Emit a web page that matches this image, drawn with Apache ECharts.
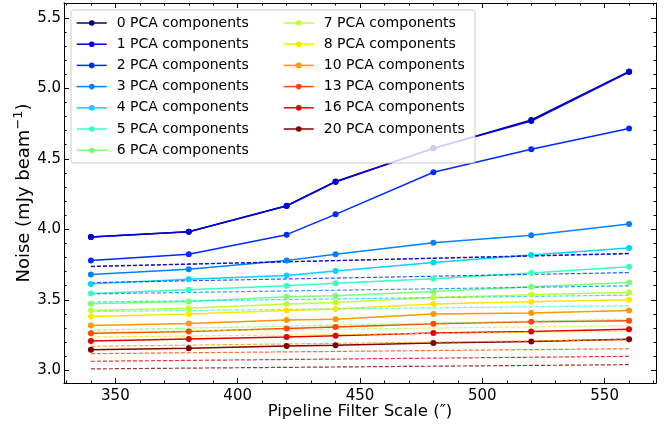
<!DOCTYPE html>
<html>
<head>
<meta charset="utf-8">
<script src="https://cdn.jsdelivr.net/npm/echarts@6/dist/echarts.min.js"></script>
<style>
  html, body { margin: 0; padding: 0; background: #fff; }
  #noise-chart { width: 666px; height: 424px; }
</style>
</head>
<body>
<div id="noise-chart"></div>
<script>
// filter scales (arcsec)
const filterScales = [340, 380, 420, 440, 480, 520, 560]

// measured noise per number of PCA components (mJy/beam)
const pca0 = [3.945, 3.983, 4.167, 4.339, 4.574, 4.775, 5.12]
const pca1 = [3.945, 3.983, 4.165, 4.336, 4.574, 4.768, 5.115]
const pca2 = [3.778, 3.823, 3.962, 4.106, 4.405, 4.568, 4.715]
const pca3 = [3.679, 3.717, 3.778, 3.823, 3.905, 3.958, 4.037]
const pca4 = [3.613, 3.646, 3.672, 3.705, 3.764, 3.818, 3.868]
const pca5 = [3.545, 3.571, 3.599, 3.618, 3.649, 3.691, 3.735]
const pca6 = [3.472, 3.488, 3.521, 3.528, 3.559, 3.592, 3.622]
const pca7 = [3.424, 3.441, 3.47, 3.481, 3.516, 3.535, 3.554]
const pca8 = [3.382, 3.399, 3.424, 3.434, 3.47, 3.486, 3.5]
const pca10 = [3.317, 3.332, 3.356, 3.363, 3.399, 3.406, 3.424]
const pca13 = [3.263, 3.276, 3.297, 3.307, 3.33, 3.344, 3.352]
const pca16 = [3.207, 3.222, 3.236, 3.245, 3.264, 3.276, 3.291]
const pca20 = [3.145, 3.156, 3.172, 3.177, 3.194, 3.205, 3.22]

// dashed reference lines: value at first and last filter scale
const fitEnds = [340, 560]
const fit0 = [3.735, 3.83]
const fit1 = [3.738, 3.826]
const fit2 = [3.622, 3.693]
const fit3 = [3.542, 3.599]
const fit4 = [3.484, 3.533]
const fit5 = [3.417, 3.458]
const fit6 = [3.285, 3.363]
const fit7 = [3.272, 3.316]
const fit8 = [3.236, 3.276]
const fit10 = [3.17, 3.217]
const fit13 = [3.118, 3.153]
const fit16 = [3.064, 3.099]
const fit20 = [3.01, 3.04]

const components = [0, 1, 2, 3, 4, 5, 6, 7, 8, 10, 13, 16, 20]
const measured = [pca0, pca1, pca2, pca3, pca4, pca5, pca6, pca7, pca8, pca10, pca13, pca16, pca20]
const fits = [fit0, fit1, fit2, fit3, fit4, fit5, fit6, fit7, fit8, fit10, fit13, fit16, fit20]

// tick labels
const xTicks = [350, 400, 450, 500, 550]
const yTicks = [3.0, 3.5, 4.0, 4.5, 5.0, 5.5]

// jet colormap samples
const colors = ['#000080', '#0000e0', '#002aff', '#0080ff', '#00d4ff', '#37ffc0', '#7bff7b',
  '#c0ff37', '#ffe600', '#ff9700', '#ff4800', '#e00000', '#800000']

const xMin = 329
const xMax = 571
const yMin = 2.91
const yMax = 5.605

let xMinor = []
for (let v = 330; v <= 570; v += 10) xMinor.push(v)
let yMinor = []
for (let k = 30; k <= 56; k++) yMinor.push(k / 10)

const font = 'DejaVu Sans'
const names = components.map(c => c + ' PCA components')

let series = []
components.forEach((c, i) => {
  series.push({
    name: names[i],
    type: 'line',
    symbol: 'circle',
    symbolSize: 6,
    color: colors[i],
    lineStyle: { width: 1.5 },
    animation: false,
    data: filterScales.map((x, j) => [x, measured[i][j]])
  })
})
components.forEach((c, i) => {
  series.push({
    name: names[i] + ' fit',
    type: 'line',
    symbol: 'none',
    color: colors[i],
    lineStyle: { width: 1.2, type: [4, 2], opacity: 0.8 },
    animation: false,
    data: fitEnds.map((x, j) => [x, fits[i][j]])
  })
})

function xAxisOf (position, ticks, len, withLabels) {
  return {
    type: 'value',
    position: position,
    min: xMin,
    max: xMax,
    splitLine: { show: false },
    axisLine: { show: withLabels, onZero: false, lineStyle: { color: '#000', width: 1 } },
    axisTick: { inside: true, length: len, customValues: ticks, lineStyle: { color: '#000' } },
    axisLabel: withLabels && position === 'bottom'
      ? { customValues: xTicks, fontFamily: font, fontSize: 15, color: '#000', margin: 6 }
      : { show: false }
  }
}

function yAxisOf (position, ticks, len, withLabels) {
  return {
    type: 'value',
    position: position,
    min: yMin,
    max: yMax,
    splitLine: { show: false },
    axisLine: { show: withLabels, onZero: false, lineStyle: { color: '#000', width: 1 } },
    axisTick: { inside: true, length: len, customValues: ticks, lineStyle: { color: '#000' } },
    axisLabel: withLabels && position === 'left'
      ? { customValues: yTicks, fontFamily: font, fontSize: 15, color: '#000', margin: 3,
          formatter: v => v.toFixed(1) }
      : { show: false }
  }
}

let xAxes = [
  xAxisOf('bottom', xTicks, 5, true),
  xAxisOf('bottom', xMinor, 2.5, false),
  xAxisOf('top', xTicks, 5, true),
  xAxisOf('top', xMinor, 2.5, false)
]
xAxes[0].name = 'Pipeline Filter Scale (\u2033)'
xAxes[0].nameLocation = 'middle'
xAxes[0].nameGap = 20
xAxes[0].nameMoveOverlap = false
xAxes[0].nameTextStyle = { fontFamily: font, fontSize: 16.5, color: '#000' }

let yAxes = [
  yAxisOf('left', yTicks, 5, true),
  yAxisOf('left', yMinor, 2.5, false),
  yAxisOf('right', yTicks, 5, true),
  yAxisOf('right', yMinor, 2.5, false)
]
yAxes[0].name = 'Noise (mJy beam{sup|\u22121})'
yAxes[0].nameLocation = 'middle'
yAxes[0].nameGap = 28
yAxes[0].nameMoveOverlap = false
yAxes[0].nameTextStyle = {
  fontFamily: font, fontSize: 18, color: '#000', lineHeight: 24,
  rich: {
    sup: { fontFamily: font, fontSize: 13, color: '#000', lineHeight: 14, verticalAlign: 'top' }
  }
}

function legendOf (left, items) {
  return {
    orient: 'vertical',
    zlevel: 1,
    z: 5,
    left: left,
    top: 16,
    padding: 0,
    itemWidth: 30,
    itemHeight: 7,
    itemGap: 7.2,
    data: items,
    itemStyle: { borderWidth: 0 },
    lineStyle: { width: 1.5 },
    textStyle: { fontFamily: font, fontSize: 14, color: '#000', lineHeight: 14, padding: [0, 0, 0, 5] }
  }
}

let myChart = echarts.init(document.getElementById('noise-chart'))
let option = {
  backgroundColor: '#fff',
  animation: false,
  grid: { left: 64, right: 10, top: 3, bottom: 41, containLabel: false, outerBoundsMode: 'none' },
  xAxis: xAxes,
  yAxis: yAxes,
  legend: [
    legendOf(76, names.slice(0, 7)),
    legendOf(283, names.slice(7))
  ],
  graphic: [{
    type: 'rect',
    zlevel: 1,
    z: 0,
    shape: { x: 71, y: 10, width: 404, height: 153, r: 3 },
    style: { fill: 'rgba(255,255,255,0.8)', stroke: '#cccccc', lineWidth: 1 }
  }],
  series: series
}
myChart.setOption(option)
</script>
</body>
</html>
